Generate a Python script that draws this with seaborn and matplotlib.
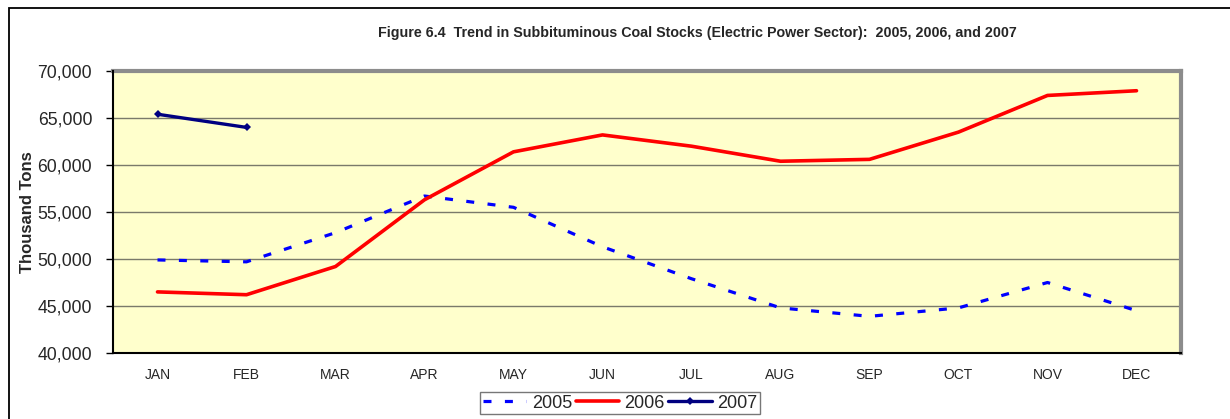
import numpy as np
import pandas as pd
import matplotlib
matplotlib.use("Agg")
import matplotlib.pyplot as plt
import seaborn as sns
from matplotlib.lines import Line2D
from matplotlib.patches import Rectangle
from matplotlib.ticker import FuncFormatter, MultipleLocator

# data (thousand tons)
months = ["JAN", "FEB", "MAR", "APR", "MAY", "JUN",
          "JUL", "AUG", "SEP", "OCT", "NOV", "DEC"]
stocks_2005 = [49900, 49700, 52800, 56700, 55500, 51300,
               47900, 44800, 43900, 44800, 47500, 44500]
stocks_2006 = [46500, 46200, 49200, 56300, 61400, 63200,
               62000, 60400, 60600, 63500, 67400, 67900]
stocks_2007 = [65400, 64000]

title = ("Figure 6.4  Trend in Subbituminous Coal Stocks "
         "(Electric Power Sector):  2005, 2006, and 2007")

sns.set_style("white")
plt.rcParams["font.family"] = ["Liberation Sans", "DejaVu Sans"]

fig = plt.figure(figsize=(12.3, 4.19), dpi=100)
ax = fig.add_axes([113 / 1230, 1 - 353 / 419, 1068 / 1230, 282 / 419])
ax.set_facecolor("#FFFFCC")

pos = np.arange(len(months))
df05 = pd.DataFrame({"x": pos, "y": stocks_2005})
df06 = pd.DataFrame({"x": pos, "y": stocks_2006})
df07 = pd.DataFrame({"x": pos[:len(stocks_2007)], "y": stocks_2007})

sns.lineplot(data=df05, x="x", y="y", ax=ax, color="#0000FF", lw=2.3,
             zorder=3).lines[-1].set_dashes((2.5, 4.2))
sns.lineplot(data=df06, x="x", y="y", ax=ax, color="#FF0000", lw=2.6, zorder=3)
sns.lineplot(data=df07, x="x", y="y", ax=ax, color="#000080", lw=2.4,
             marker="D", markersize=4, markeredgewidth=0, zorder=4)

ax.set_xlim(-0.5, 11.5)
ax.set_ylim(40000, 70000)
ax.yaxis.set_major_locator(MultipleLocator(5000))
ax.yaxis.set_major_formatter(FuncFormatter(lambda v, p: f"{int(v):,}"))
ax.set_xticks(pos)
ax.set_xticklabels(months, fontsize=10)
ax.set_xticks(np.arange(-0.5, 12, 1), minor=True)
ax.tick_params(axis="x", which="major", length=0, pad=11)
ax.tick_params(axis="x", which="minor", length=5, width=1, color="black", direction="out")
ax.tick_params(axis="y", labelsize=12.7, length=5, width=1, color="black",
               direction="out", left=True, pad=10)
ax.grid(axis="y", color="#7a7a6a", lw=1)
ax.set_axisbelow(True)

ax.set_xlabel("")
ax.set_ylabel("Thousand Tons", fontsize=12, fontweight="bold")
ax.yaxis.set_label_coords(-0.073, 0.5)

for side in ["top", "right"]:
    ax.spines[side].set_color("#8c8c8c")
    ax.spines[side].set_linewidth(3)
for side in ["left", "bottom"]:
    ax.spines[side].set_color("black")
    ax.spines[side].set_linewidth(1.5)
    ax.spines[side].set_zorder(5)

fig.text(697 / 1230, 1 - 33 / 419, title, ha="center", va="center",
         fontsize=10.3, fontweight="bold")

handles = [
    Line2D([], [], color="#0000FF", lw=2.3, dashes=(2.5, 4.2)),
    Line2D([], [], color="#FF0000", lw=2.6),
    Line2D([], [], color="#000080", lw=2.4, marker="D", markersize=4, markeredgewidth=0),
]
leg = fig.legend(handles, ["2005", "2006", "2007"], loc="center",
                 bbox_to_anchor=(620 / 1230, 1 - 403 / 419), ncol=3,
                 fontsize=13, frameon=True, fancybox=False, handlelength=2.4,
                 handletextpad=0.3, columnspacing=0.2, borderpad=0.15,
                 borderaxespad=0)
leg.get_frame().set_edgecolor("#555555")
leg.get_frame().set_linewidth(1)

# outer chart border (right and bottom edges fall outside the image)
fig.patches.append(Rectangle((9 / 1230, -0.05), 1.1, 1 - 8 / 419 + 0.05,
                             transform=fig.transFigure, fill=False,
                             edgecolor="black", lw=1.3))

fig.savefig("out.png", dpi=100)
